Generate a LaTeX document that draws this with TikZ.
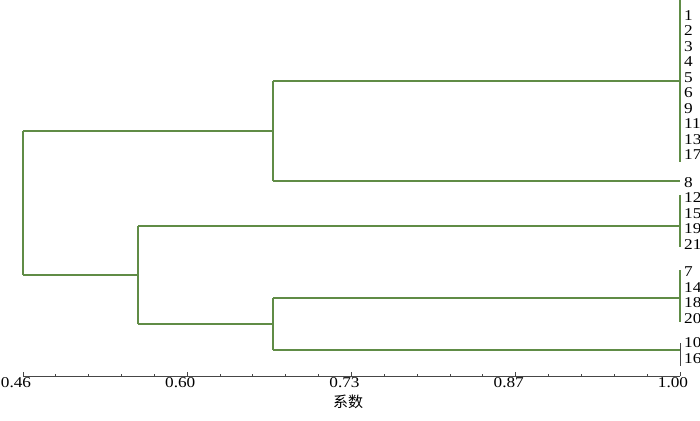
\documentclass[tikz,border=0pt]{standalone}
\usepackage{fontspec}
\setmainfont{Liberation Serif}
\newfontfamily\numfont[FakeStretch=1.15]{Liberation Serif}
\newfontfamily\cjk{Noto Sans CJK SC}
\definecolor{treegreen}{RGB}{96,140,70}
\definecolor{axisgray}{RGB}{70,70,70}
\begin{document}
\begin{tikzpicture}[x=1pt,y=-1pt,
  branch/.style={draw=treegreen,line width=1.5pt},
  leafbar/.style={draw=treegreen,line width=1.5pt},
  darkbar/.style={draw=axisgray,line width=1pt},
  axisline/.style={draw=axisgray,line width=1pt},
  leaflabel/.style={anchor=west,inner sep=0pt,font=\numfont\fontsize{15}{15}\selectfont},
  ticklabel/.style={anchor=center,inner sep=0pt,font=\numfont\fontsize{15}{15}\selectfont}]
\useasboundingbox (0,0) rectangle (700,420);

% leaf labels
\foreach \lab/\yy in {1/15.5,2/31,3/46.5,4/62,5/77.5,6/93,9/108.5,11/124,13/139.5,17/155,
  8/182.5,12/198,15/213.5,19/229,21/244.5,7/272,14/287.5,18/303,20/318.5,10/343,16/358.5}
  \node[leaflabel] (L\lab) at (684,\yy) {\lab};

% junction coordinates
\coordinate (R1) at (23,131);
\coordinate (R2) at (23,275);
\coordinate (A1) at (273,131);
\coordinate (At) at (273,81);
\coordinate (Ab) at (273,181);
\coordinate (B1) at (138,275);
\coordinate (Bt) at (138,226);
\coordinate (Bb) at (138,324);
\coordinate (C1) at (273,324);
\coordinate (Ct) at (273,298);
\coordinate (Cb) at (273,350);
% leaf bar ends
\coordinate (G1m) at (680,81);
\coordinate (G1t) at (680,0);
\coordinate (G1b) at (680,162);
\coordinate (G2m) at (680,181);
\coordinate (G3m) at (680,226);
\coordinate (G3t) at (680,195);
\coordinate (G3b) at (680,247);
\coordinate (G4m) at (680,298);
\coordinate (G4t) at (680,270);
\coordinate (G4b) at (680,322);
\coordinate (G5m) at (680,350);
\coordinate (G5t) at (680,343);
\coordinate (G5b) at (680,366);

% tree
\draw[branch] (R1) -- (R2);
\draw[branch] (R1) -- (A1);
\draw[branch] (R2) -- (B1);
\draw[branch] (At) -- (Ab);
\draw[branch] (At) -- (G1m);
\draw[branch] (Ab) -- (G2m);
\draw[branch] (Bt) -- (Bb);
\draw[branch] (Bt) -- (G3m);
\draw[branch] (Bb) -- (C1);
\draw[branch] (Ct) -- (Cb);
\draw[branch] (Ct) -- (G4m);
\draw[branch] (Cb) -- (G5m);
% leaf bars
\draw[leafbar] (G1t) -- (G1b);
\draw[leafbar] (G3t) -- (G3b);
\draw[leafbar] (G4t) -- (G4b);
\draw[darkbar] (G5t) -- (G5b);

% axis
\coordinate (X0) at (23,376);
\coordinate (X1) at (680,376);
\draw[axisline] (X0) -- (X1);
\foreach \i in {0,...,20} {
  \pgfmathsetmacro{\xx}{23+32.85*\i}
  \pgfmathtruncatemacro{\ismaj}{mod(\i,5)==0 ? 1 : 0}
  \ifnum\ismaj=1
    \draw[axisline] (\xx,376) -- (\xx,371.5);
  \else
    \draw[axisline] (\xx,376) -- (\xx,373.5);
  \fi
}
\foreach \k/\lab in {0/0.46,1/0.60,2/0.73,3/0.87,4/1.00} {
  \pgfmathsetmacro{\xx}{23+164.25*\k-7}
  \node[ticklabel] (T\k) at (\xx,383) {\lab};
}
\node[inner sep=0pt,font=\cjk\fontsize{15}{15}\selectfont] (xlab) at (348,402) {系数};
\end{tikzpicture}
\end{document}
